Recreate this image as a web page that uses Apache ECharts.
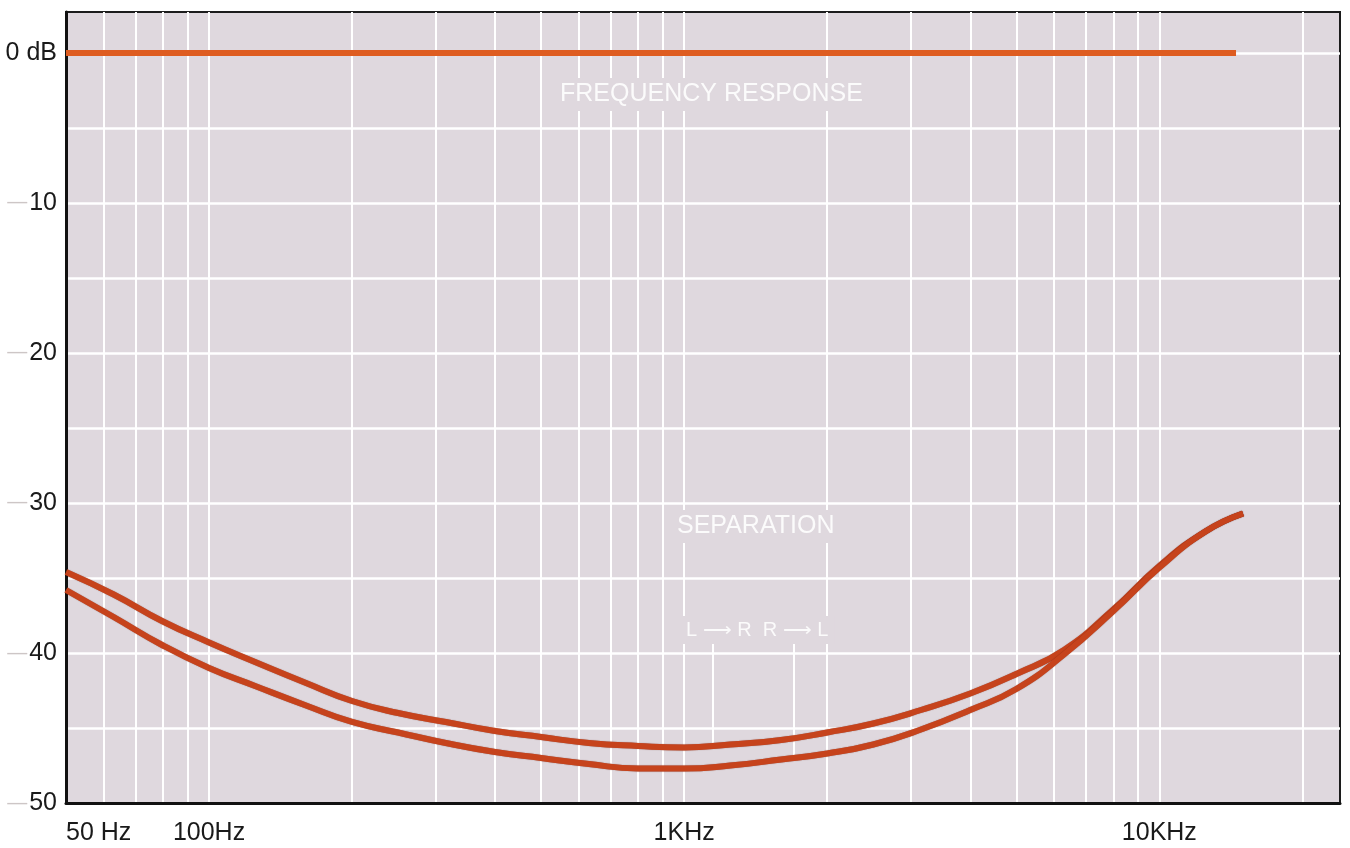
<!DOCTYPE html>
<html>
<head>
<meta charset="utf-8">
<script src="https://cdn.jsdelivr.net/npm/echarts@6/dist/echarts.min.js"></script>
<style>
html,body{margin:0;padding:0;background:#ffffff;}
#chart{width:1350px;height:848px;}
</style>
</head>
<body>
<div id="chart"></div>
<script>
// ---- data ----
const xGridFreqs = [50,60,70,80,90,100,200,300,400,500,600,700,800,900,1000,2000,3000,4000,5000,6000,7000,8000,9000,10000,20000];
const xLabelFreqs = [50,100,1000,10000];
const yGridValues = [0,5,10,15,20,25,30,35,40,45,50];
const yLabelValues = [0,10,20,30,40,50];

const respFreqs = [50,100,1000,10000,14500];
const respValues = [0,0,0,0,0];

const sepFreqs = [50,63,80,100,125,160,200,250,315,400,500,630,800,1000,1250,1600,2000,2500,3150,4000,5000,6300,8000,10000,12500,15000];
const sepUpper = [34.6,36.1,37.9,39.3,40.6,42.0,43.2,44.0,44.6,45.2,45.6,46.0,46.2,46.3,46.1,45.8,45.3,44.7,43.8,42.7,41.4,39.8,37.1,34.2,31.9,30.7];
const sepLower = [35.8,37.6,39.5,41.0,42.2,43.5,44.6,45.3,46.0,46.6,47.0,47.4,47.7,47.7,47.5,47.1,46.7,46.1,45.1,43.8,42.4,40.1,37.2,34.3,31.9,30.7];

const leaderUpper = {freq:1150, from:39.3, to:46.2};
const leaderLower = {freq:1700, from:39.3, to:47.0};

function pairs(xs, ys){ return xs.map((x,i)=>[x, ys[i]]); }

const FONT = '"Liberation Sans", Arial, sans-serif';
const BG = '#dfd8de';

const chart = echarts.init(document.getElementById('chart'));
chart.setOption({
  animation:false,
  backgroundColor:'#ffffff',
  grid:{
    left:66, right:10, top:12, bottom:45,
    show:true, backgroundColor:BG, borderColor:'#1c1c1c', borderWidth:2
  },
  xAxis:{
    type:'log', logBase:10, min:50, max:24000,
    axisLine:{show:true, onZero:false, lineStyle:{color:'#111', width:3}},
    axisTick:{show:false, customValues:xGridFreqs},
    splitLine:{show:true, lineStyle:{color:'#ffffff', width:2}},
    minorTick:{show:false}, minorSplitLine:{show:false},
    axisLabel:{
      customValues:xLabelFreqs, margin:18, alignMinLabel:'left',
      color:'#1a1a1a', fontFamily:FONT, fontSize:25,
      formatter:function(v){
        if (v===50) return '50 Hz';
        if (v>=1000) return (v/1000)+'KHz';
        return v+'Hz';
      }
    }
  },
  yAxis:{
    type:'value', inverse:true, min:-2.73, max:50,
    axisLine:{show:true, onZero:false, lineStyle:{color:'#111', width:3}},
    axisTick:{show:false, customValues:yGridValues},
    splitLine:{show:true, lineStyle:{color:'#ffffff', width:2.5}},
    axisLabel:{
      customValues:yLabelValues, margin:9,
      fontFamily:FONT, fontSize:25, color:'#1a1a1a',
      formatter:function(v){
        if (v===0) return '{n|0 dB}';
        return '{d|—}{n|'+v+'}';
      },
      rich:{
        n:{fontFamily:FONT, fontSize:25, color:'#1a1a1a'},
        d:{fontFamily:FONT, fontSize:20, color:'#cdc6c6', padding:[0,2,0,0]}
      }
    }
  },
  series:[
    {
      name:'Frequency response', type:'line', data:pairs(respFreqs, respValues),
      showSymbol:false, symbol:'none', z:5,
      lineStyle:{color:'#de5c20', width:6}
    },
    {
      name:'L→R', type:'line', data:pairs(sepFreqs, sepUpper), smooth:0.5,
      showSymbol:false, symbol:'none', z:5,
      lineStyle:{color:'#c6431c', width:6, shadowColor:'rgba(90,20,10,0.6)', shadowBlur:1},
      markLine:{
        silent:true, symbol:'none', label:{show:false},
        lineStyle:{color:'#ffffff', width:2, type:'solid'},
        data:[[{coord:[leaderUpper.freq, leaderUpper.from]},{coord:[leaderUpper.freq, leaderUpper.to]}]]
      }
    },
    {
      name:'R→L', type:'line', data:pairs(sepFreqs, sepLower), smooth:0.5,
      showSymbol:false, symbol:'none', z:5,
      lineStyle:{color:'#c6431c', width:6, shadowColor:'rgba(90,20,10,0.6)', shadowBlur:1},
      markLine:{
        silent:true, symbol:'none', label:{show:false},
        lineStyle:{color:'#ffffff', width:2, type:'solid'},
        data:[[{coord:[leaderLower.freq, leaderLower.from]},{coord:[leaderLower.freq, leaderLower.to]}]]
      }
    }
  ],
  graphic:[
    {type:'text', left:554, top:78, z:10, style:{
      text:'FREQUENCY RESPONSE', fill:'rgba(255,255,255,0.88)', font:'25px '+FONT,
      backgroundColor:BG, padding:[4,6]
    }},
    {type:'text', left:670, top:510, z:10, style:{
      text:'SEPARATION', fill:'rgba(255,255,255,0.88)', font:'25px '+FONT,
      backgroundColor:BG, padding:[4,7]
    }},
    {type:'text', left:680, top:616, z:10, style:{
      text:'L ⟶ R  R ⟶ L', fill:'rgba(255,255,255,0.88)', font:'20px '+FONT,
      backgroundColor:BG, padding:[4,6]
    }}
  ]
});
</script>
</body>
</html>
